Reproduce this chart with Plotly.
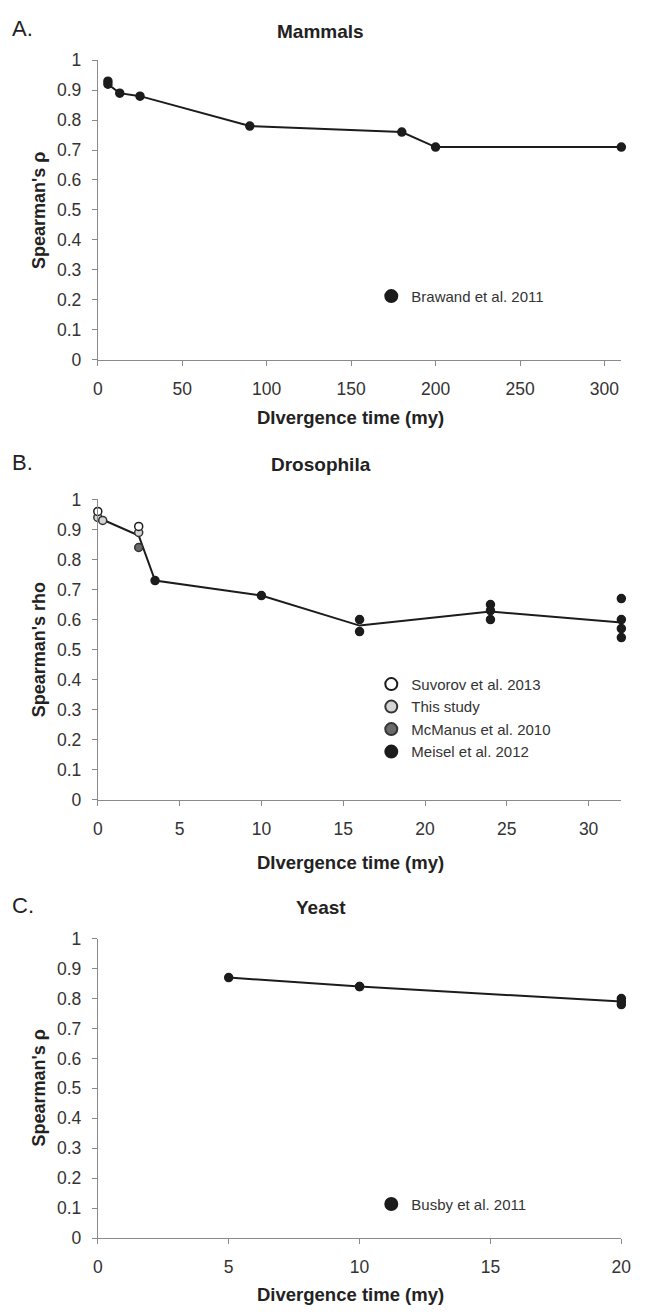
import plotly.graph_objects as go

# ---------------- data ----------------
# A. Mammals (Brawand et al. 2011)
mammal_time = [6, 6, 13, 25, 90, 180, 200, 310]
mammal_rho = [0.93, 0.92, 0.89, 0.88, 0.78, 0.76, 0.71, 0.71]
mammal_line_time = [6, 13, 25, 90, 180, 200, 310]
mammal_line_rho = [0.92, 0.89, 0.88, 0.78, 0.76, 0.71, 0.71]

# B. Drosophila
suvorov_time = [0, 2.5]
suvorov_rho = [0.96, 0.91]
this_time = [0, 0.3, 2.5]
this_rho = [0.94, 0.93, 0.89]
mcmanus_time = [2.5]
mcmanus_rho = [0.84]
meisel_time = [3.5, 10, 16, 16, 24, 24, 24, 32, 32, 32, 32]
meisel_rho = [0.73, 0.68, 0.60, 0.56, 0.65, 0.63, 0.60, 0.67, 0.60, 0.57, 0.54]
dros_line_time = [0, 2.5, 3.5, 10, 16, 24, 32]
dros_line_rho = [0.94, 0.88, 0.73, 0.68, 0.58, 0.627, 0.59]

# C. Yeast (Busby et al. 2011)
yeast_time = [5, 10, 10, 20, 20, 20]
yeast_rho = [0.87, 0.84, 0.84, 0.80, 0.79, 0.78]
yeast_line_time = [5, 10, 20]
yeast_line_rho = [0.87, 0.84, 0.79]

# ---------------- figure ----------------
W, H = 646, 1316
FONT = "Liberation Sans, Arial, sans-serif"
DARK = "#1c1c1c"
AX = "#8a8a8a"


def py(px):  # pixel row -> paper y
    return 1 - px / H


def px_x(px):
    return px / W


fig = go.Figure()

line_style = dict(color=DARK, width=2)


def add_line(t, r, n):
    fig.add_trace(go.Scatter(x=t, y=r, mode="lines", line=line_style,
                             showlegend=False, hoverinfo="skip",
                             xaxis="x" + ("" if n == 1 else str(n)),
                             yaxis="y" + ("" if n == 1 else str(n))))


def add_pts(t, r, n, name, fill, edge, legend):
    fig.add_trace(go.Scatter(x=t, y=r, mode="markers", name=name,
                             marker=dict(size=8, color=fill,
                                         line=dict(color=edge, width=1.5)),
                             cliponaxis=False, legend=legend,
                             xaxis="x" + ("" if n == 1 else str(n)),
                             yaxis="y" + ("" if n == 1 else str(n))))


add_line(mammal_line_time, mammal_line_rho, 1)
add_pts(mammal_time, mammal_rho, 1, "Brawand et al. 2011", DARK, DARK, "legend")

add_line(dros_line_time, dros_line_rho, 2)
add_pts(meisel_time, meisel_rho, 2, "Meisel et al. 2012", DARK, DARK, "legend2")
add_pts(mcmanus_time, mcmanus_rho, 2, "McManus et al. 2010", "#6a6a6a", "#333333", "legend2")
add_pts(this_time, this_rho, 2, "This study", "#d4d4d4", "#333333", "legend2")
add_pts(suvorov_time, suvorov_rho, 2, "Suvorov et al. 2013", "#ffffff", "#1c1c1c", "legend2")

add_line(yeast_line_time, yeast_line_rho, 3)
add_pts(yeast_time, yeast_rho, 3, "Busby et al. 2011", DARK, DARK, "legend3")

xdom = [px_x(95), px_x(631)]
panels = [  # (top px, bottom px, xmax, dtick)
    (51, 355, 310, 50),
    (497, 802, 32, 5),
    (943, 1247, 20, 5),
]

axis_common = dict(showgrid=False, zeroline=False, showline=True, linecolor=AX,
                   linewidth=1, ticks="outside", ticklen=5, tickcolor=AX,
                   tickfont=dict(family=FONT, size=17.5, color="#333333"))

layout = dict(width=W, height=H, margin=dict(l=0, r=0, t=0, b=0),
              plot_bgcolor="white", paper_bgcolor="white",
              font=dict(family=FONT, color="#222222"))

for i, (top, bot, xmax, dt) in enumerate(panels, start=1):
    sfx = "" if i == 1 else str(i)
    layout["xaxis" + sfx] = dict(domain=xdom, range=[0, xmax], tick0=0, dtick=dt,
                                 anchor="y" + sfx, ticklabelstandoff=8, **axis_common)
    layout["yaxis" + sfx] = dict(domain=[py(bot), py(top)], range=[0, 1], tick0=0,
                                 dtick=0.1, anchor="x" + sfx, ticklabelstandoff=7,
                                 **axis_common)

leg_common = dict(font=dict(family=FONT, size=15, color="#333333"),
                  itemsizing="constant", bgcolor="rgba(0,0,0,0)",
                  xanchor="left", yanchor="top", tracegroupgap=0)
layout["legend"] = dict(x=px_x(375), y=py(274), **leg_common)
layout["legend2"] = dict(x=px_x(375), y=py(668), traceorder="reversed", **leg_common)
layout["legend3"] = dict(x=px_x(375), y=py(1196), **leg_common)

fig.update_layout(**layout)

ann = []
letters = [("A.", 19), ("B.", 459), ("C.", 909)]
titles = [("Mammals", 22), ("Drosophila", 462), ("Yeast", 911)]
xtitles = [("DIvergence time (my)", 414), ("DIvergence time (my)", 866), ("Divergence time (my)", 1304)]
ytitles = [("Spearman's \u03c1", 204), ("Spearman's rho", 650), ("Spearman's \u03c1", 1095)]

for (t, y) in letters:
    ann.append(dict(text=t, x=px_x(5), y=py(y), xref="paper", yref="paper",
                    xanchor="left", yanchor="middle", showarrow=False,
                    font=dict(family=FONT, size=22, color="#222222")))
for (t, y) in titles:
    ann.append(dict(text="<b>" + t + "</b>", x=0.5, y=py(y), xref="paper", yref="paper",
                    xanchor="center", yanchor="middle", showarrow=False,
                    font=dict(family=FONT, size=19, color="#222222")))
for (t, y) in xtitles:
    ann.append(dict(text="<b>" + t + "</b>", x=px_x(354), y=py(y),
                    xref="paper", yref="paper", xanchor="center", yanchor="middle",
                    showarrow=False, font=dict(family=FONT, size=18.5, color="#222222")))
for (t, y) in ytitles:
    ann.append(dict(text="<b>" + t + "</b>", x=px_x(35), y=py(y), xref="paper", yref="paper",
                    xanchor="center", yanchor="middle", textangle=-90, showarrow=False,
                    font=dict(family=FONT, size=18, color="#222222")))

fig.update_layout(annotations=ann)
fig.write_html("out.html", config={"displayModeBar": False},
               post_script="document.body.style.margin='0';")
